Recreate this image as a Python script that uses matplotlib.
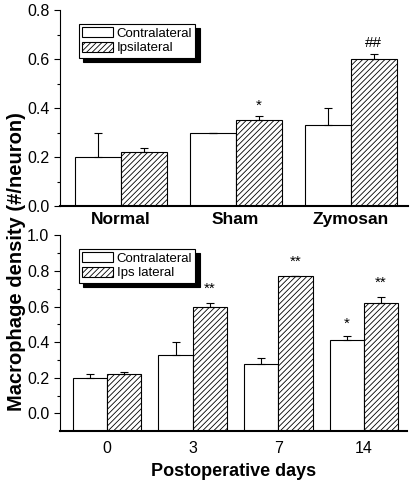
import numpy as np
import matplotlib
matplotlib.use("Agg")
import matplotlib.pyplot as plt

plt.rcParams['font.family'] = ['Liberation Sans', 'DejaVu Sans']
plt.rcParams['hatch.linewidth'] = 0.6

# 上段：処置群
groups = ['Normal', 'Sham', 'Zymosan']
contra_top = [0.20, 0.30, 0.33]
contra_top_err = [0.10, 0.0, 0.07]
ipsi_top = [0.22, 0.35, 0.60]
ipsi_top_err = [0.018, 0.018, 0.022]
marks_top = ['', '*', '##']

# 下段：術後日数
days = ['0', '3', '7', '14']
contra_bot = [0.20, 0.33, 0.28, 0.41]
contra_bot_err = [0.022, 0.07, 0.03, 0.025]
ipsi_bot = [0.22, 0.60, 0.77, 0.62]
ipsi_bot_err = [0.015, 0.02, 0.0, 0.032]
marks_contra_bot = ['', '', '', '*']
marks_ipsi_bot = ['', '**', '**', '**']

w = 0.4
fig = plt.figure(figsize=(4.13, 4.84), dpi=100)
ax1 = fig.add_axes([0.145, 0.574, 0.843, 0.405])
ax2 = fig.add_axes([0.145, 0.109, 0.840, 0.405])


def style(ax):
    for s in ['top', 'right']:
        ax.spines[s].set_visible(False)
    ax.spines['left'].set_linewidth(0.8)
    ax.spines['bottom'].set_linewidth(1.5)
    ax.tick_params(axis='y', direction='out', length=4, width=0.8, labelsize=11.5,
                   which='major')
    ax.tick_params(axis='y', which='minor', direction='out', length=2, width=0.8)
    ax.tick_params(axis='x', length=0)


def legend(ax, labels):
    h = [plt.Rectangle((0, 0), 1, 1, fc='white', ec='black', lw=0.8),
         plt.Rectangle((0, 0), 1, 1, fc='white', ec='black', lw=0.8, hatch='//////')]
    lg = ax.legend(h, labels, loc='upper left', bbox_to_anchor=(0.055, 0.93),
                   fancybox=False, shadow={'color': 'black', 'alpha': 1, 'ox': 3, 'oy': -3},
                   frameon=True, fontsize=9.5, handlelength=2.3, handleheight=0.8,
                   labelspacing=0.15, borderpad=0.25, handletextpad=0.3,
                   borderaxespad=0)
    lg.get_frame().set_edgecolor('black')
    lg.get_frame().set_linewidth(0.8)


# 上段の描画
x = np.arange(len(groups))
ax1.bar(x - w / 2, contra_top, w, color='white', edgecolor='black', lw=0.8,
        yerr=[np.zeros(3), contra_top_err], capsize=3,
        error_kw=dict(elinewidth=0.8, capthick=0.8))
ax1.bar(x + w / 2, ipsi_top, w, color='white', edgecolor='black', lw=0.8,
        hatch='//////', yerr=[np.zeros(3), ipsi_top_err], capsize=3,
        error_kw=dict(elinewidth=0.8, capthick=0.8))
for i, m in enumerate(marks_top):
    ax1.text(x[i] + w / 2, ipsi_top[i] + ipsi_top_err[i] + 0.015, m,
             ha='center', va='bottom', fontsize=11)
ax1.set_xlim(-0.53, 2.5)
ax1.set_ylim(0, 0.8)
ax1.set_yticks([0.0, 0.2, 0.4, 0.6, 0.8])
ax1.set_yticks(np.arange(0.1, 0.8, 0.2), minor=True)
ax1.set_yticklabels(['0.0', '0.2', '0.4', '0.6', '0.8'])
ax1.set_xticks(x)
ax1.set_xticklabels(groups, fontsize=12.5, fontweight='bold')
ax1.tick_params(axis='x', pad=4)
style(ax1)
legend(ax1, ['Contralateral', 'Ipsilateral'])

# 下段の描画
x2 = np.arange(len(days))
ax2.bar(x2 - w / 2, np.array(contra_bot) + 0.1, w, bottom=-0.1, color='white',
        edgecolor='black', lw=0.8)
ax2.errorbar(x2 - w / 2, contra_bot, yerr=[np.zeros(4), contra_bot_err], fmt='none',
             ecolor='black', elinewidth=0.8, capsize=3, capthick=0.8)
ax2.bar(x2 + w / 2, np.array(ipsi_bot) + 0.1, w, bottom=-0.1, color='white',
        edgecolor='black', lw=0.8, hatch='//////')
ax2.errorbar(x2 + w / 2, ipsi_bot, yerr=[np.zeros(4), ipsi_bot_err], fmt='none',
             ecolor='black', elinewidth=0.8, capsize=3, capthick=0.8)
for i in range(len(days)):
    if marks_contra_bot[i]:
        ax2.text(x2[i] - w / 2, contra_bot[i] + contra_bot_err[i] + 0.03,
                 marks_contra_bot[i], ha='center', va='bottom', fontsize=11)
    if marks_ipsi_bot[i]:
        ax2.text(x2[i] + w / 2, ipsi_bot[i] + ipsi_bot_err[i] + 0.04,
                 marks_ipsi_bot[i], ha='center', va='bottom', fontsize=11)
ax2.set_xlim(-0.55, 3.5)
ax2.set_ylim(-0.1, 1.0)
ax2.set_yticks([0.0, 0.2, 0.4, 0.6, 0.8, 1.0])
ax2.set_yticks(np.arange(0.1, 1.0, 0.2), minor=True)
ax2.set_yticklabels(['0.0', '0.2', '0.4', '0.6', '0.8', '1.0'])
ax2.set_xticks(x2)
ax2.set_xticklabels(days, fontsize=11.5)
ax2.tick_params(axis='x', pad=7)
style(ax2)
legend(ax2, ['Contralateral', 'Ips lateral'])
ax2.set_xlabel('Postoperative days', fontsize=13, fontweight='bold', labelpad=5)

fig.text(0.041, 0.459, 'Macrophage density (#/neuron)', rotation=90, ha='center',
         va='center', fontsize=14.5, fontweight='bold')

fig.savefig('out.png', dpi=100)
